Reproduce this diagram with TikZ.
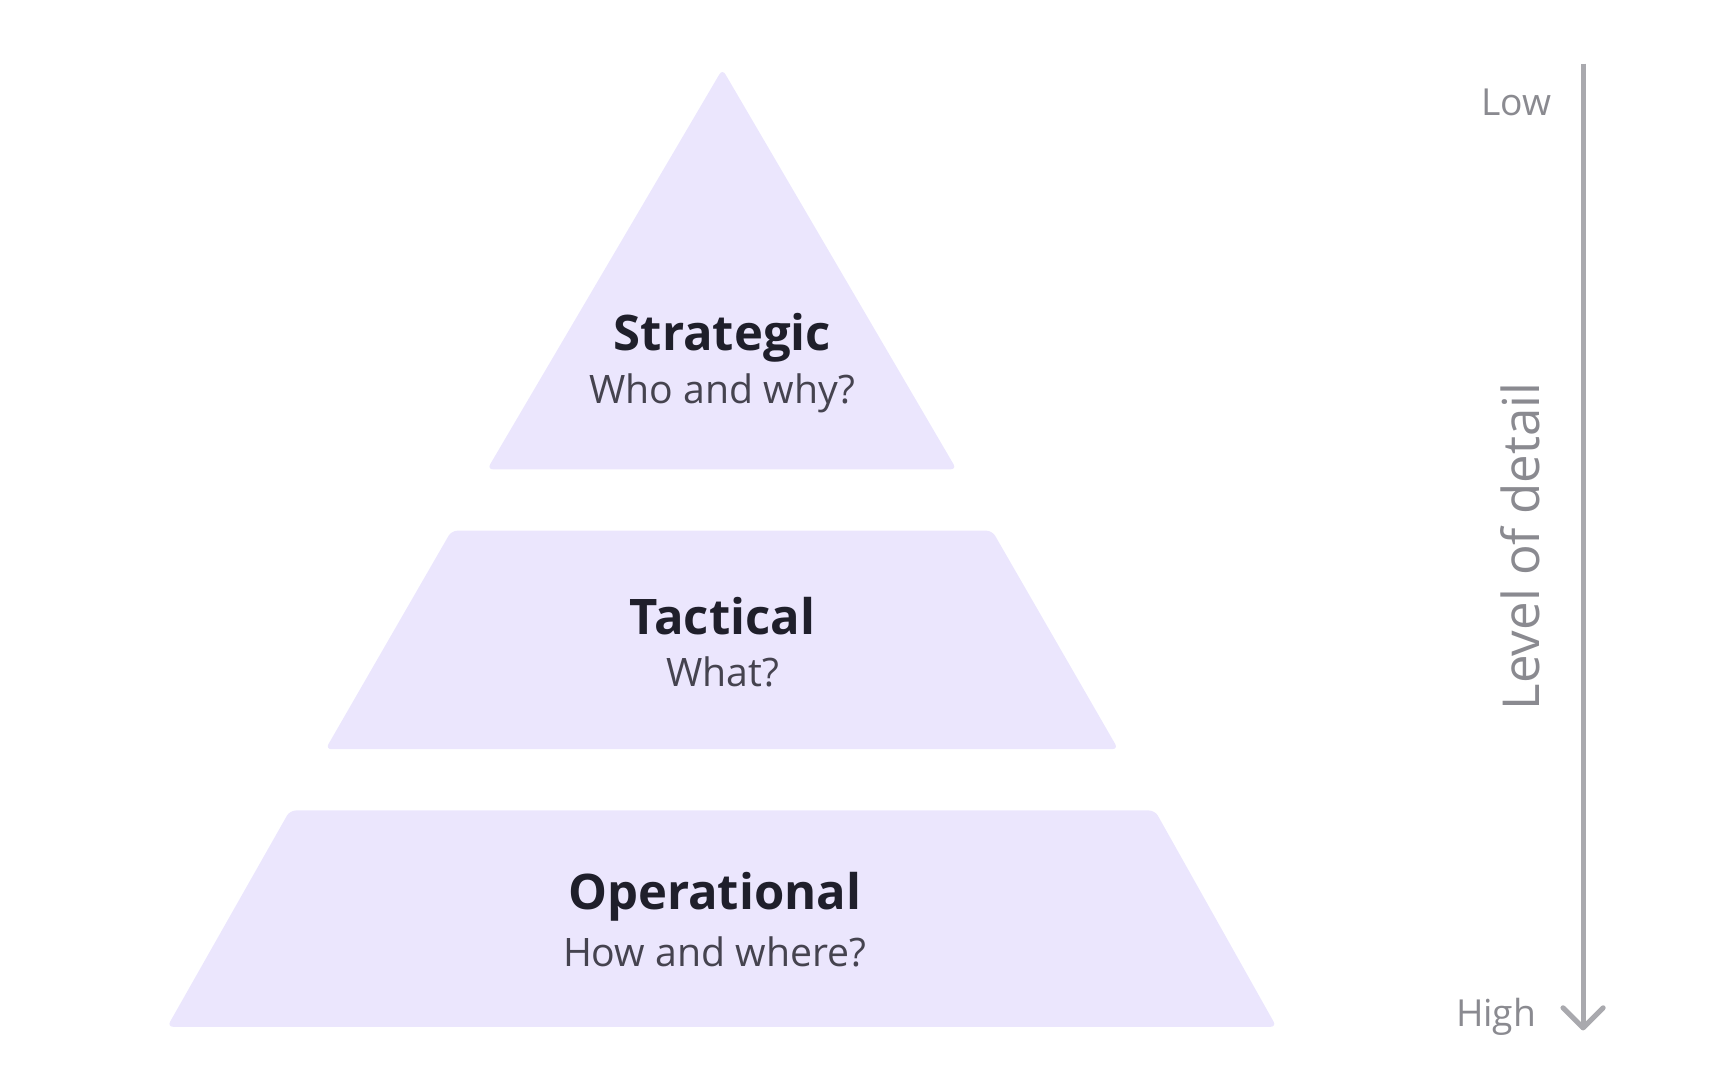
\documentclass[tikz,border=0pt]{standalone}
\usepackage{fontspec}
\setmainfont{Open Sans}
\usepackage{tikz}
\usetikzlibrary{positioning}
\definecolor{tier}{HTML}{EBE6FD}
\definecolor{titlecol}{HTML}{1F1F2B}
\definecolor{subcol}{HTML}{45434F}
\definecolor{axiscol}{HTML}{A9A9AE}
\definecolor{axistext}{HTML}{8A8A90}
\tikzset{
  tierfill/.style={fill=tier, rounded corners=1.5pt},
  tiertitle/.style={font=\fontsize{12.5}{14}\selectfont\bfseries, text=titlecol},
  tiersub/.style={font=\fontsize{10}{12}\selectfont, text=subcol},
  axislabel/.style={font=\fontsize{9.5}{11}\selectfont, text=axistext}
}
\begin{document}
\begin{tikzpicture}[x=0.01cm, y=-0.01cm]
\useasboundingbox (0,0) rectangle (1550,969);
% tiers
\fill[tierfill] (648,62) -- (858,421) -- (437,421) -- cycle;
\fill[tierfill] (405,476) -- (890,476) -- (1003,672) -- (292,672) -- cycle;
\fill[tierfill] (260,727) -- (1036,727) -- (1145,921) -- (150,921) -- cycle;
% labels
\node[tiertitle] (strat) at (648,303) {Strategic};
\node[tiersub] (stratq) at (648,353) {Who and why?};
\node[tiertitle] (tact) at (648,553) {Tactical};
\node[tiersub] (tactq) at (648,603) {What?};
\node[tiertitle] (oper) at (641,804) {Operational};
\node[tiersub] (operq) at (641,854) {How and where?};
% detail axis
\coordinate (top) at (1420,57);
\coordinate (bot) at (1420,922);
\draw[axiscol, line width=1.3pt] (top) -- (bot);
\draw[axiscol, line width=1.3pt, line cap=round, line join=round] (1402,904) -- (bot) -- (1438,904);
\node[axislabel] (low) at (1360,92) {Low};
\node[axislabel] (high) at (1342,912) {High};
\node[axislabel, font=\fontsize{13}{15}\selectfont, rotate=90] (lvl) at (1364,490) {Level of detail};
\end{tikzpicture}
\end{document}
